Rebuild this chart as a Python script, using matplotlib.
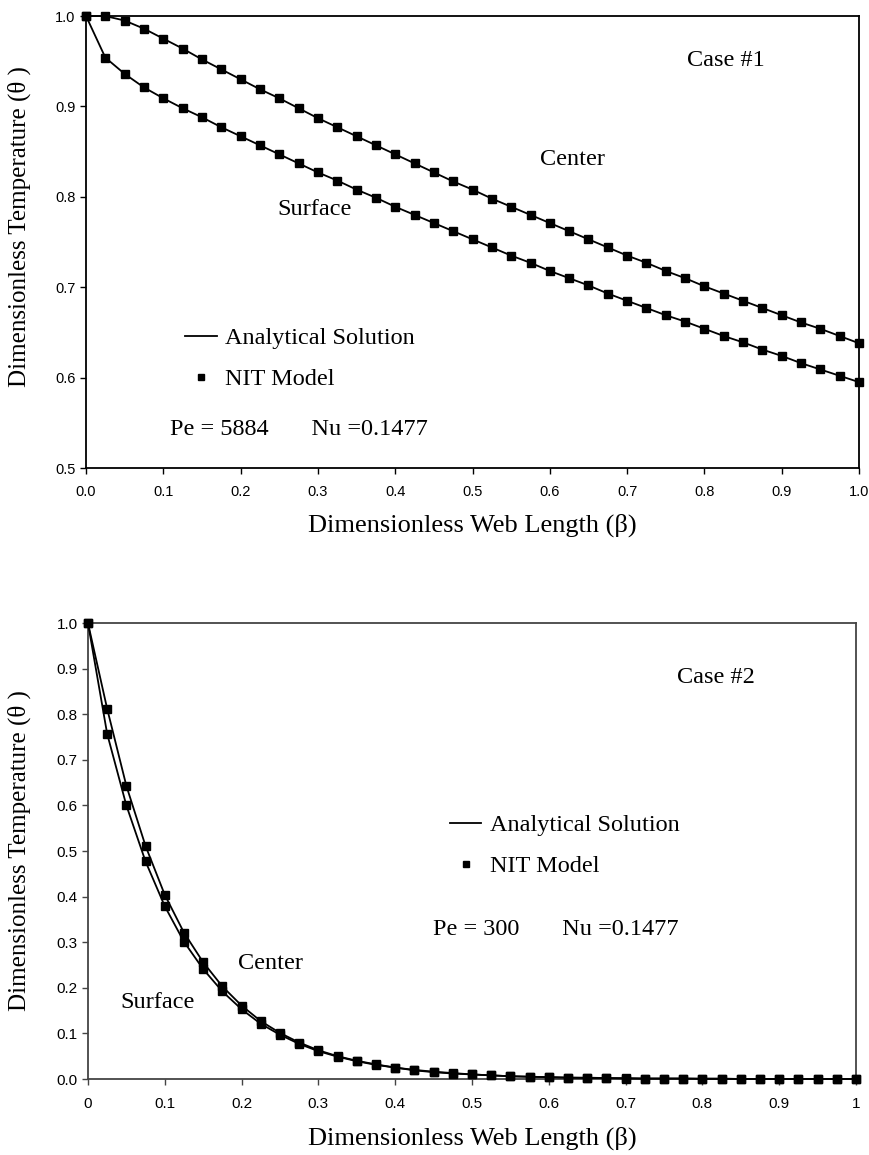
import matplotlib
matplotlib.use("Agg")
import matplotlib.pyplot as plt
from matplotlib.lines import Line2D
from matplotlib.ticker import FormatStrFormatter, FixedLocator

# ---------------------- DATA ----------------------
beta = [i * 0.025 for i in range(41)]

# Case 1 (Pe = 5884)
case1_center = [1.000, 1.000, 0.995, 0.986, 0.975, 0.964, 0.952, 0.941, 0.930, 0.919,
                0.909, 0.898, 0.887, 0.877, 0.867, 0.857, 0.847, 0.837, 0.827, 0.817,
                0.808, 0.798, 0.789, 0.780, 0.771, 0.762, 0.753, 0.744, 0.735, 0.727,
                0.718, 0.710, 0.701, 0.693, 0.685, 0.677, 0.669, 0.661, 0.654, 0.646, 0.638]
case1_surface = [1.000, 0.954, 0.936, 0.921, 0.909, 0.898, 0.888, 0.877, 0.867, 0.857,
                 0.847, 0.837, 0.827, 0.818, 0.808, 0.799, 0.789, 0.780, 0.771, 0.762,
                 0.753, 0.744, 0.735, 0.727, 0.718, 0.710, 0.702, 0.693, 0.685, 0.677,
                 0.669, 0.662, 0.654, 0.646, 0.639, 0.631, 0.624, 0.616, 0.609, 0.602, 0.595]

# Case 2 (Pe = 300)
case2_center = [1.000, 0.812, 0.643, 0.511, 0.404, 0.321, 0.256, 0.203, 0.161, 0.127,
                0.101, 0.080, 0.063, 0.050, 0.040, 0.032, 0.025, 0.020, 0.016, 0.013,
                0.010, 0.008, 0.006, 0.005, 0.004, 0.003, 0.003, 0.002, 0.002, 0.001,
                0.001, 0.001, 0.001, 0.001, 0.000, 0.000, 0.000, 0.000, 0.000, 0.000, 0.000]
case2_surface = [1.000, 0.757, 0.600, 0.477, 0.379, 0.301, 0.241, 0.192, 0.153, 0.121,
                 0.097, 0.077, 0.061, 0.049, 0.039, 0.031, 0.025, 0.019, 0.015, 0.012,
                 0.010, 0.008, 0.006, 0.005, 0.004, 0.003, 0.002, 0.002, 0.001, 0.001,
                 0.001, 0.001, 0.000, 0.000, 0.000, 0.000, 0.000, 0.000, 0.000, 0.000, 0.000]

xticks = [0.0, 0.1, 0.2, 0.3, 0.4, 0.5, 0.6, 0.7, 0.8, 0.9, 1.0]
case1_yticks = [0.5, 0.6, 0.7, 0.8, 0.9, 1.0]
case2_yticks = [0.0, 0.1, 0.2, 0.3, 0.4, 0.5, 0.6, 0.7, 0.8, 0.9, 1.0]
case2_xlabels = ["0", "0.1", "0.2", "0.3", "0.4", "0.5", "0.6", "0.7", "0.8", "0.9", "1"]

SERIF = "Liberation Serif"
SANS = "Liberation Sans"
TXT = 17.5

# ---------------------- FIGURE ----------------------
fig = plt.figure(figsize=(8.7, 11.55), dpi=100)
ax1 = fig.add_axes([0.0989, 0.5948, 0.8885, 0.3913])
ax2 = fig.add_axes([0.1011, 0.0658, 0.8828, 0.3948])


def draw_case(ax, center, surface, spine_col):
    for ys in (center, surface):
        ax.plot(beta, ys, color="black", lw=1.3, marker="s", ms=5.5,
                mfc="black", mec="black", clip_on=False, zorder=3)
    ax.set_xlim(0, 1)
    for sp in ax.spines.values():
        sp.set_color(spine_col)
        sp.set_linewidth(1.3)
    ax.tick_params(direction="out", length=4, width=1, colors=spine_col,
                   labelcolor="black")
    ax.set_xlabel("Dimensionless Web Length (\u03b2)", family=SERIF, fontsize=19,
                  labelpad=11)
    ax.set_ylabel("Dimensionless Temperature (\u03b8 )", family=SERIF, fontsize=18)


def add_legend(ax, anchor):
    handles = [Line2D([], [], color="black", lw=1.3),
               Line2D([], [], color="black", ls="none", marker="s", ms=5)]
    ax.legend(handles, ["Analytical Solution", "NIT Model"], loc="center left",
              bbox_to_anchor=anchor, frameon=False, handlelength=1.3,
              handletextpad=0.35, labelspacing=0.78, borderaxespad=0, borderpad=0,
              prop={"family": SERIF, "size": TXT})


# ---------------------- CASE 1 ----------------------
draw_case(ax1, case1_center, case1_surface, "black")
ax1.set_ylim(0.5, 1.0)
ax1.xaxis.set_major_locator(FixedLocator(xticks))
ax1.yaxis.set_major_locator(FixedLocator(case1_yticks))
ax1.xaxis.set_major_formatter(FormatStrFormatter("%.1f"))
ax1.yaxis.set_major_formatter(FormatStrFormatter("%.1f"))
for lab in ax1.get_xticklabels() + ax1.get_yticklabels():
    lab.set_family(SANS)
    lab.set_fontsize(10.5)
ax1.tick_params(axis="x", pad=8)
ax1.yaxis.set_label_coords(-0.071, 0.535)

ax1.text(0.777, 0.951, "Case #1", family=SERIF, fontsize=TXT, va="center")
ax1.text(0.587, 0.841, "Center", family=SERIF, fontsize=TXT, va="center")
ax1.text(0.248, 0.786, "Surface", family=SERIF, fontsize=TXT, va="center")
ax1.text(0.109, 0.5425, "Pe = 5884       Nu =0.1477", family=SERIF, fontsize=TXT,
         va="center")
add_legend(ax1, (0.128, 0.242))

# ---------------------- CASE 2 ----------------------
draw_case(ax2, case2_center, case2_surface, "#444444")
ax2.set_ylim(0.0, 1.0)
ax2.xaxis.set_major_locator(FixedLocator(xticks))
ax2.set_xticklabels(case2_xlabels)
ax2.yaxis.set_major_locator(FixedLocator(case2_yticks))
ax2.yaxis.set_major_formatter(FormatStrFormatter("%.1f"))
for lab in ax2.get_xticklabels() + ax2.get_yticklabels():
    lab.set_family(SANS)
    lab.set_fontsize(11)
ax2.tick_params(axis="x", pad=9)
ax2.yaxis.set_label_coords(-0.074, 0.5)

ax2.text(0.767, 0.88, "Case #2", family=SERIF, fontsize=TXT, va="center")
ax2.text(0.195, 0.254, "Center", family=SERIF, fontsize=TXT, va="center")
ax2.text(0.042, 0.167, "Surface", family=SERIF, fontsize=TXT, va="center")
ax2.text(0.449, 0.327, "Pe = 300       Nu =0.1477", family=SERIF, fontsize=TXT,
         va="center")
add_legend(ax2, (0.471, 0.512))

fig.savefig("out.png", dpi=100)
